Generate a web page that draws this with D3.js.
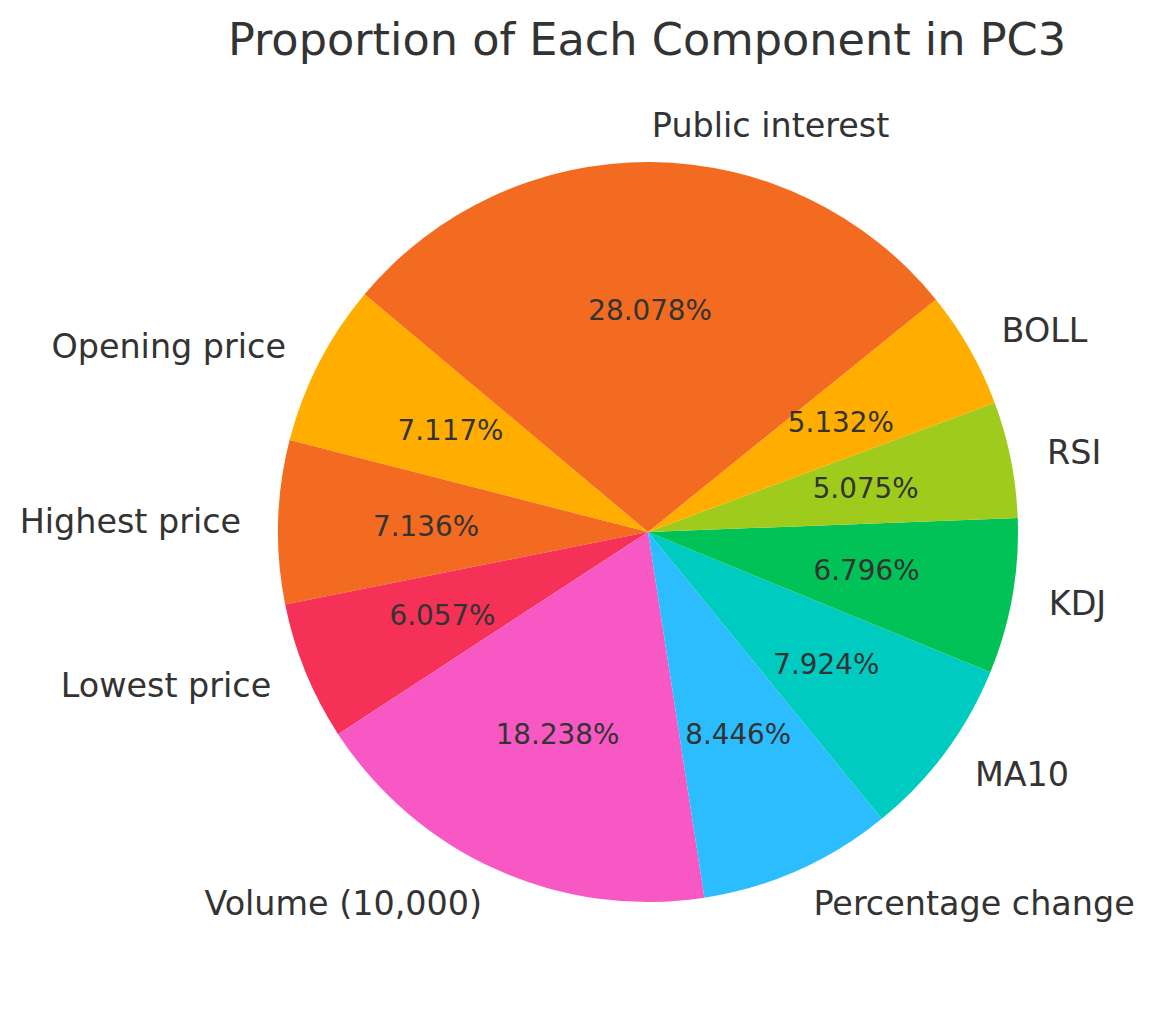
<!DOCTYPE html>
<html>
<head>
<meta charset="utf-8">
<script src="https://cdn.jsdelivr.net/npm/d3@7"></script>
<style>
  html, body { margin: 0; padding: 0; background: #ffffff; }
  svg { display: block; }
  text { font-family: "DejaVu Sans", sans-serif; fill: #333333; }
</style>
</head>
<body>
<svg id="chart" width="1153" height="1014"></svg>
<script>
const categories = ["Opening price", "Highest price", "Lowest price", "Volume (10,000)", "Percentage change", "MA10", "KDJ", "RSI", "BOLL", "Public interest"];
const values = [7.117, 7.136, 6.057, 18.238, 8.446, 7.924, 6.796, 5.075, 5.132, 28.078];
const colors = ["#FFAE00", "#F26B21", "#F53157", "#F858C4", "#2BBDFE", "#00CBC0", "#00C257", "#9FCB1C", "#FFAE00", "#F26B21"];
const titleText = "Proportion of Each Component in PC3";

const W = 1153, H = 1014;
const cx = 648, cy = 532, R = 370;
const svg = d3.select("#chart");

svg.append("text")
  .attr("x", 647).attr("y", 40)
  .attr("text-anchor", "middle")
  .attr("dominant-baseline", "central")
  .style("font-size", "44.6px")
  .text(titleText);

const data = categories.map((c, i) => ({ name: c, value: values[i], color: colors[i] }));
const startDeg = 140; // matplotlib-style start angle, counterclockwise
const a0 = (90 - startDeg) * Math.PI / 180;
const pie = d3.pie().value(d => d.value).sort(null)
  .startAngle(a0).endAngle(a0 - 2 * Math.PI);
const arcs = pie(data);

const g = svg.append("g").attr("transform", `translate(${cx},${cy})`);
const arc = d3.arc().innerRadius(0).outerRadius(R);

g.selectAll("path.slice").data(arcs).join("path")
  .attr("class", "slice")
  .attr("d", arc)
  .attr("fill", d => d.data.color);

g.selectAll("text.pct").data(arcs).join("text")
  .attr("class", "pct")
  .attr("x", d => Math.sin((d.startAngle + d.endAngle) / 2) * R * 0.6)
  .attr("y", d => -Math.cos((d.startAngle + d.endAngle) / 2) * R * 0.6)
  .attr("text-anchor", "middle")
  .attr("dominant-baseline", "central")
  .style("font-size", "27.8px")
  .text(d => d.data.value.toFixed(3) + "%");

g.selectAll("text.lbl").data(arcs).join("text")
  .attr("class", "lbl")
  .each(function(d) {
    const m = (d.startAngle + d.endAngle) / 2;
    const x = Math.sin(m) * R * 1.1, y = -Math.cos(m) * R * 1.1;
    d3.select(this).attr("x", x).attr("y", y)
      .attr("text-anchor", x > 0 ? "start" : "end");
  })
  .attr("dominant-baseline", "central")
  .style("font-size", "33.4px")
  .text(d => d.data.name);
</script>
</body>
</html>
